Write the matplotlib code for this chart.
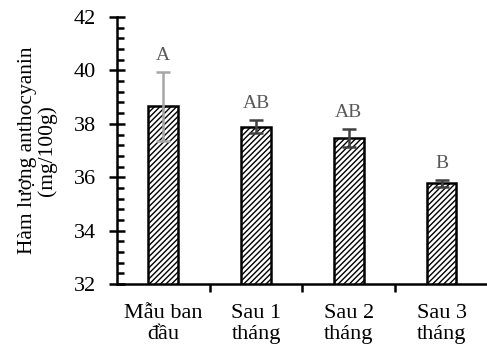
import matplotlib.pyplot as plt
import numpy as np

plt.rcParams['font.family'] = ['Liberation Serif', 'DejaVu Serif']
plt.rcParams['hatch.linewidth'] = 1.0

categories = ['Mẫu ban\nđầu', 'Sau 1\ntháng', 'Sau 2\ntháng', 'Sau 3\ntháng']
values = [38.65, 37.90, 37.48, 35.77]
errors = [1.28, 0.23, 0.34, 0.14]
letters = ['A', 'AB', 'AB', 'B']
err_colors = ['#a6a6a6', '#404040', '#404040', '#404040']

fig = plt.figure(figsize=(4.87, 3.53), dpi=100)
ax = fig.add_axes([0.240, 0.195, 0.762, 0.757])

x = np.arange(len(categories))
ax.bar(x, values, 0.32, bottom=0, color='white', edgecolor='black',
       linewidth=1.8, hatch='//////', zorder=2)
for xi, v, e, c in zip(x, values, errors, err_colors):
    ax.errorbar(xi, v, yerr=e, fmt='none', ecolor=c, elinewidth=1.8,
                capsize=5, capthick=1.8, zorder=3)
# significance letters above each error bar
for xi, v, e, t in zip(x, values, errors, letters):
    ax.text(xi, v + e + 0.3, t, ha='center', va='bottom',
            fontsize=14, color='#595959')

ax.set_ylim(32, 42)
ax.set_xlim(-0.5, 3.5)
ax.set_yticks(np.arange(32, 43, 2))
ax.set_yticks(np.arange(32, 42, 0.4), minor=True)
ax.set_xticks(x, categories)
ax.set_xticks(np.arange(0.5, 3.5, 1.0), minor=True)
ax.tick_params(axis='x', which='major', length=0, labelsize=16, pad=14)
ax.tick_params(axis='x', which='minor', length=6, width=1.8, direction='out')
ax.tick_params(axis='y', which='major', length=12, width=1.8, direction='inout',
               labelsize=16, pad=9)
ax.tick_params(axis='y', which='minor', length=5, width=1.8, direction='in')

for side in ['top', 'right']:
    ax.spines[side].set_visible(False)
for side in ['left', 'bottom']:
    ax.spines[side].set_linewidth(1.8)

ax.set_ylabel('Hàm lượng anthocyanin\n(mg/100g)', fontsize=15.5, labelpad=12,
              linespacing=1.0)

fig.savefig('out.png', dpi=100)
